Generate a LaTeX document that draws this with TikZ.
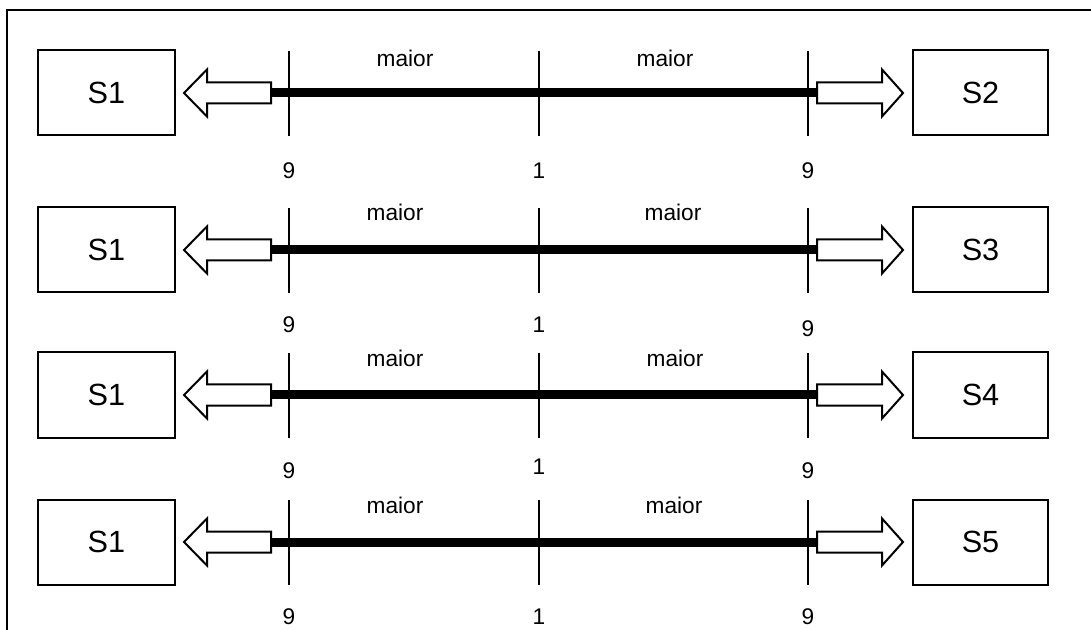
\documentclass[tikz,border=0pt]{standalone}
\usepackage{fontspec}
\setmainfont{Liberation Sans}
\usetikzlibrary{calc}
\begin{document}
\begin{tikzpicture}[x=0.75pt,y=-0.75pt,
  sbox/.style={draw=black,line width=1.5pt,minimum width=102.75pt,minimum height=63.75pt,inner sep=0pt,font=\fontsize{23}{26}\selectfont},
  lbl/.style={inner sep=0pt,font=\fontsize{17}{20}\selectfont},
  tick/.style={line width=1.5pt},
  bar/.style={line width=6.75pt},
  fatarrow/.style={draw=black,fill=white,line width=1.5pt,line join=miter}]
\useasboundingbox (0,0) rectangle (1091,630);
\fill[white] (0,0) rectangle (1091,630);
\draw[line width=1.6pt] (7,630) -- (7,10) -- (1091,10);
\foreach \r/\yc/\ym/\mxl/\mxr/\yl/\ylm/\ylr/\name in
  {1/93/58.5/405/665/170.5/170.5/170.5/S2,
   2/250/212/395/673/325/325/329/S3,
   3/395/358/395/675/471/467/471/S4,
   4/542/505/395/674/616.5/616.5/616.5/S5}{
  \node[sbox] (L\r) at (106.5,\yc) {S1};
  \node[sbox,minimum width=101.25pt] (R\r) at (980.5,\yc) {\name};
  \coordinate (a\r) at (270,\yc);
  \coordinate (b\r) at (818,\yc);
  \draw[bar] (a\r) -- (b\r);
  \draw[fatarrow] ($(L\r.east)+(95,-10.5)$) -- ++(-64,0) -- ++(0,-13) -- ($(L\r.east)+(8,0)$) -- ($(L\r.east)+(31,23.5)$) -- ++(0,-13) -- ++(64,0) -- cycle;
  \draw[fatarrow] ($(R\r.west)+(-95,-10.5)$) -- ++(65,0) -- ++(0,-13) -- ($(R\r.west)+(-9,0)$) -- ($(R\r.west)+(-30,23.5)$) -- ++(0,-13) -- ++(-65,0) -- cycle;
  \coordinate (t1\r) at (289,\yc-42);
  \coordinate (u1\r) at (289,\yc+43);
  \coordinate (t2\r) at (539,\yc-42);
  \coordinate (u2\r) at (539,\yc+43);
  \coordinate (t3\r) at (808,\yc-42);
  \coordinate (u3\r) at (808,\yc+43);
  \draw[tick] (t1\r) -- (u1\r);
  \draw[tick] (t2\r) -- (u2\r);
  \draw[tick] (t3\r) -- (u3\r);
  \node[lbl] (ml\r) at (\mxl,\ym) {maior};
  \node[lbl] (mr\r) at (\mxr,\ym) {maior};
  \node[lbl] (n1\r) at (289,\yl) {9};
  \node[lbl] (n2\r) at (539,\ylm) {1};
  \node[lbl] (n3\r) at (808,\ylr) {9};
}
\end{tikzpicture}
\end{document}
